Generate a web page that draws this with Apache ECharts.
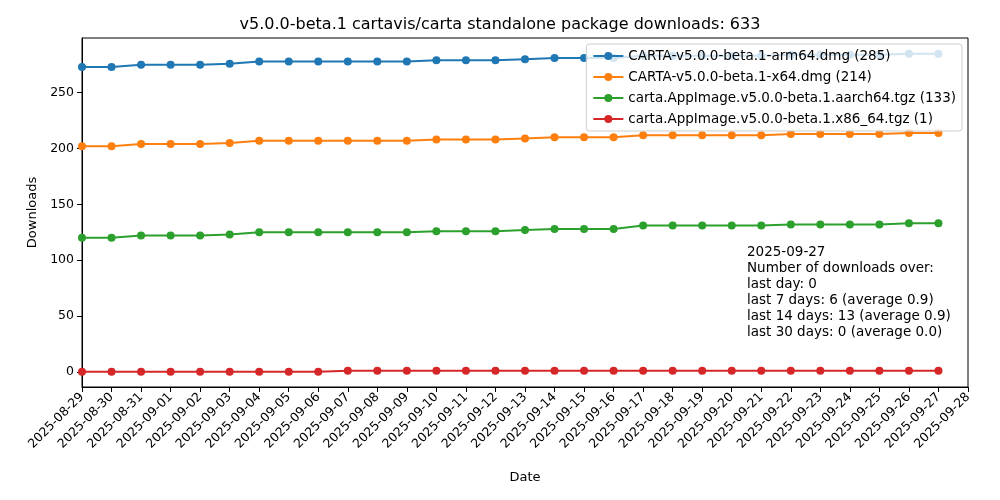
<!DOCTYPE html><html><head><meta charset="utf-8"><script src="https://cdn.jsdelivr.net/npm/echarts@6/dist/echarts.min.js"></script></head><body style="margin:0"><div id="c" style="width:1000px;height:500px"></div><script>
const dates=['2025-08-29','2025-08-30','2025-08-31','2025-09-01','2025-09-02','2025-09-03','2025-09-04','2025-09-05','2025-09-06','2025-09-07','2025-09-08','2025-09-09','2025-09-10','2025-09-11','2025-09-12','2025-09-13','2025-09-14','2025-09-15','2025-09-16','2025-09-17','2025-09-18','2025-09-19','2025-09-20','2025-09-21','2025-09-22','2025-09-23','2025-09-24','2025-09-25','2025-09-26','2025-09-27','2025-09-28'];
const arm64=[273,273,275,275,275,276,278,278,278,278,278,278,279,279,279,280,281,281,281,283,283,283,283,283,284,284,284,284,285,285];
const x64=[202,202,204,204,204,205,207,207,207,207,207,207,208,208,208,209,210,210,210,212,212,212,212,212,213,213,213,213,214,214];
const aarch=[120,120,122,122,122,123,125,125,125,125,125,125,126,126,126,127,128,128,128,131,131,131,131,131,132,132,132,132,133,133];
const x86=[0,0,0,0,0,0,0,0,0,1,1,1,1,1,1,1,1,1,1,1,1,1,1,1,1,1,1,1,1,1];
const names=['CARTA-v5.0.0-beta.1-arm64.dmg (285)','CARTA-v5.0.0-beta.1-x64.dmg (214)','carta.AppImage.v5.0.0-beta.1.aarch64.tgz (133)','carta.AppImage.v5.0.0-beta.1.x86_64.tgz (1)'];
const colors=['#1f77b4','#ff7f0e','#2ca02c','#d62728'];
const yTicks=[0,50,100,150,200,250];
const F='DejaVu Sans';
const ch=echarts.init(document.getElementById('c'));
ch.setOption({animation:false,textStyle:{fontFamily:F},
title:{text:'v5.0.0-beta.1 cartavis/carta standalone package downloads: 633',left:'center',top:12,textStyle:{fontFamily:F,fontSize:16,fontWeight:'normal',color:'#000'}},
grid:{left:82,right:32,top:38,bottom:113},
legend:{right:38,top:44,orient:'vertical',itemGap:7,itemWidth:30,itemHeight:10,backgroundColor:'rgba(255,255,255,0.8)',borderColor:'#ccc',borderWidth:1,borderRadius:3,padding:[5,6],textStyle:{fontFamily:F,fontSize:13.5,color:'#000'},data:names},
graphic:[{type:'text',left:747,top:244,style:{text:'2025-09-27\nNumber of downloads over:\nlast day: 0\nlast 7 days: 6 (average 0.9)\nlast 14 days: 13 (average 0.9)\nlast 30 days: 0 (average 0.0)',font:'13.5px DejaVu Sans',fill:'#000',lineHeight:16}},{type:'rect',shape:{x:82,y:38,width:886,height:349},style:{fill:'none',stroke:'#000',lineWidth:1},silent:true}],
xAxis:{type:'category',data:dates,boundaryGap:false,name:'Date',nameLocation:'middle',nameGap:84,nameTextStyle:{fontSize:13,color:'#000'},axisLine:{onZero:false,lineStyle:{color:'#000'}},axisTick:{alignWithLabel:true,lineStyle:{color:'#000'}},axisLabel:{rotate:45,interval:0,color:'#000',fontSize:12.5},splitLine:{show:false}},
yAxis:{type:'value',min:-13.6,max:299,name:'Downloads',nameLocation:'middle',nameGap:42,nameTextStyle:{fontSize:13,color:'#000'},axisLine:{show:true,lineStyle:{color:'#000'}},axisTick:{show:true,customValues:yTicks,lineStyle:{color:'#000'}},axisLabel:{customValues:yTicks,color:'#000',fontSize:12.5},splitLine:{show:false}},
series:[arm64,x64,aarch,x86].map((d,i)=>({name:names[i],type:'line',data:d,symbol:'circle',symbolSize:8,color:colors[i],lineStyle:{width:2}}))
});
</script></body></html>
